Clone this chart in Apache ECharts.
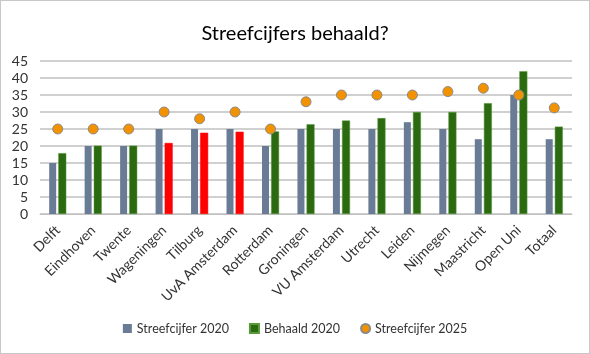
<!DOCTYPE html>
<html>
<head>
<meta charset="utf-8">
<script src="https://cdn.jsdelivr.net/npm/echarts@6/dist/echarts.min.js"></script>
<style>
  html, body { margin: 0; padding: 0; background: #fff; }
  #chart { width: 588px; height: 352px; border: 1px solid #c8c8c8; }
</style>
</head>
<body>
<div id="chart"></div>
<script>
const categories = ['Delft', 'Eindhoven', 'Twente', 'Wageningen', 'Tilburg', 'UvA Amsterdam', 'Rotterdam',
  'Groningen', 'VU Amsterdam', 'Utrecht', 'Leiden', 'Nijmegen', 'Maastricht', 'Open Uni', 'Totaal']
const target2020 = [15, 20, 20, 25, 25, 25, 20, 25, 25, 25, 27, 25, 22, 35, 22]
const achieved2020 = [17.9, 20.1, 20.1, 20.9, 23.9, 24.2, 24.3, 26.4, 27.5, 28.2, 30, 30, 32.6, 42, 25.7]
const target2025 = [25, 25, 25, 30, 28, 30, 25, 33, 35, 35, 35, 36, 37, 35, 31.2]
// categories where the target was missed get red bars
const missed = ['Wageningen', 'Tilburg', 'UvA Amsterdam']

const chart = echarts.init(document.getElementById('chart'))
const font = 'Lato, "Open Sans", sans-serif'

chart.setOption({
  animation: false,
  textStyle: { fontFamily: font },
  title: {
    text: 'Streefcijfers behaald?',
    left: 'center',
    top: 18,
    textStyle: { fontSize: 20, fontWeight: 'normal', color: '#000', fontFamily: font }
  },
  grid: { left: 39, right: 17, top: 60, height: 153 },
  legend: {
    bottom: 13,
    left: 'center',
    itemWidth: 9,
    itemHeight: 9,
    itemGap: 20,
    textStyle: { fontSize: 12.5, color: '#333', fontFamily: font },
    data: [
      { name: 'Streefcijfer 2020', icon: 'rect' },
      { name: 'Behaald 2020', icon: 'rect' },
      { name: 'Streefcijfer 2025', icon: 'circle' }
    ]
  },
  xAxis: {
    type: 'category',
    data: categories,
    axisLine: { lineStyle: { color: '#bfbfbf', width: 1 } },
    axisTick: { show: false },
    axisLabel: { rotate: 45, fontSize: 14, color: '#333', margin: 14, interval: 0 }
  },
  yAxis: {
    type: 'value',
    min: 0,
    max: 45,
    interval: 5,
    axisLine: { show: false },
    axisTick: { show: false },
    axisLabel: { fontSize: 14, color: '#333', margin: 12 },
    splitLine: { lineStyle: { color: '#c0c0c0', width: 1.5 } }
  },
  series: [
    {
      name: 'Streefcijfer 2020',
      type: 'bar',
      data: target2020,
      barWidth: 7,
      barGap: '30%',
      itemStyle: { color: '#6a7b96' }
    },
    {
      name: 'Behaald 2020',
      type: 'bar',
      data: achieved2020.map((v, i) => missed.includes(categories[i])
        ? { value: v, itemStyle: { color: '#ff0000', borderColor: '#ff0000' } }
        : v),
      barWidth: 8,
      itemStyle: { color: '#2b6a10', borderColor: '#5a9a3a', borderWidth: 0.5 }
    },
    {
      name: 'Streefcijfer 2025',
      type: 'scatter',
      data: target2025,
      symbolSize: 10,
      itemStyle: { color: '#f39200', borderColor: '#8a8a8a', borderWidth: 1, opacity: 1 },
      z: 5
    }
  ]
})
</script>
</body>
</html>
